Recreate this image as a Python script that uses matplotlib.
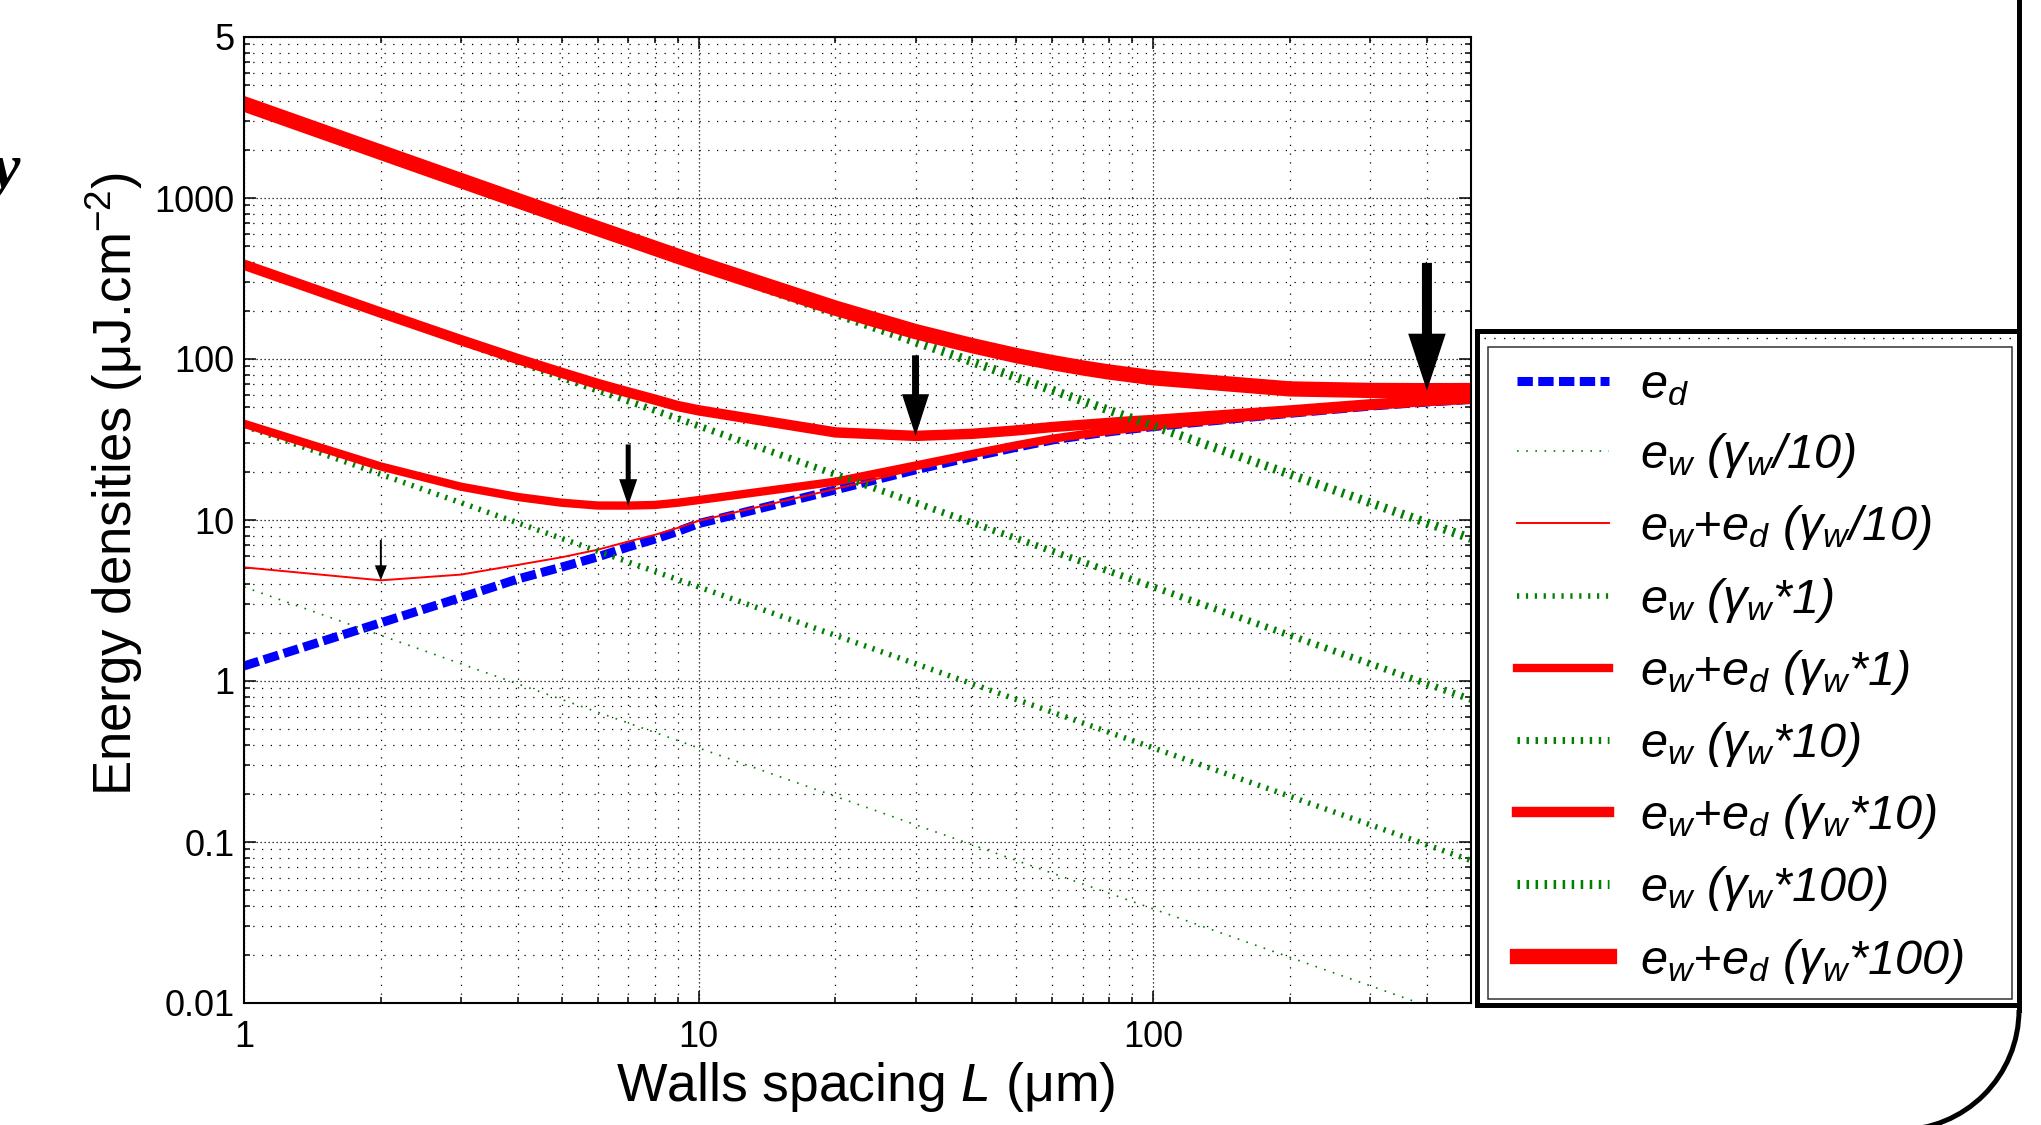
import numpy as np
import matplotlib.pyplot as plt
from matplotlib.patches import Rectangle, Arc
from matplotlib.lines import Line2D
from matplotlib.ticker import LogLocator, NullFormatter

plt.rcParams['font.family'] = ['Liberation Sans', 'DejaVu Sans']
plt.rcParams['mathtext.fontset'] = 'custom'
plt.rcParams['mathtext.rm'] = 'Liberation Sans'
plt.rcParams['mathtext.it'] = 'Liberation Sans:italic'
plt.rcParams['mathtext.bf'] = 'Liberation Sans:bold'

# walls spacing L (um) and energy densities (uJ/cm2)
L = [1, 2, 3, 4, 5, 6, 7, 8, 9, 10, 20, 30, 40, 50, 60, 70, 80, 90, 100, 200, 300, 400, 500]
e_d = [1.24, 2.3, 3.3, 4.3, 5.1, 5.9, 6.8, 7.6, 8.5, 9.5, 15.4, 20.5, 24.7, 28.3, 31.4,
       33.5, 35.3, 36.8, 38.0, 46.0, 51.0, 54.0, 56.0]
sum_div10 = [5.08, 4.22, 4.58, 5.26, 5.87, 6.54, 7.35, 8.08, 8.93, 9.88, 15.6, 20.6, 24.8,
             28.4, 31.5, 33.6, 35.3, 36.8, 38.0, 46.0, 51.0, 54.0, 56.0]
sum_x1 = [39.6, 21.5, 16.1, 13.9, 12.8, 12.3, 12.29, 12.4, 12.8, 13.3, 17.3, 21.8, 25.7,
          29.1, 32.0, 34.0, 35.8, 37.2, 38.4, 46.2, 51.1, 54.1, 56.1]
sum_x10 = [385, 194, 131, 100, 82, 70, 62, 56, 51, 48, 35, 33.3, 34.3, 36.0, 37.8, 39.0,
           40.1, 41.1, 41.8, 47.9, 52.3, 55.0, 56.8]
sum_x100 = [3841, 1922, 1283, 964, 773, 646, 556, 488, 435, 393, 207, 148, 121, 105, 95,
            88, 83, 79.5, 76.4, 65.2, 63.8, 63.6, 63.7]

# wall energy lines (straight in log-log), end points
L_ends = [1, 500]
ew_div10 = [3.84, 0.00768]
ew_x1 = [38.4, 0.0768]
ew_x10 = [384, 0.768]
ew_x100 = [3840, 7.68]

y_ticks = [0.01, 0.1, 1, 10, 100, 1000, 10000]
y_ticklabels = ['0.01', '0.1', '1', '10', '100', '1000', '5']
x_ticks = [1, 10, 100]
x_ticklabels = ['1', '10', '100']

W, H = 2041, 1125
fig = plt.figure(figsize=(W / 100, H / 100), dpi=100)
ax = fig.add_axes([244 / W, 1 - 1003 / H, 1227 / W, 966 / H])
ax.set_xscale('log')
ax.set_yscale('log')

green = '#008000'
ax.plot(L, e_d, color='blue', lw=6.5, ls=(0, (1.7, 0.6)), label=r'$e_d$')
ax.plot(L_ends, ew_div10, color=green, lw=1.2, ls=(0, (1, 4.5)), label=r'$e_w$ ($\gamma_w$/10)')
ax.plot(L, sum_div10, color='red', lw=1.4, label=r'$e_w$+$e_d$ ($\gamma_w$/10)')
ax.plot(L_ends, ew_x1, color=green, lw=4, ls=(0, (0.4, 1.2)), label=r'$e_w$ ($\gamma_w$*1)')
ax.plot(L, sum_x1, color='red', lw=6, label=r'$e_w$+$e_d$ ($\gamma_w$*1)')
ax.plot(L_ends, ew_x10, color=green, lw=5, ls=(0, (0.35, 0.95)), label=r'$e_w$ ($\gamma_w$*10)')
ax.plot(L, sum_x10, color='red', lw=7.5, label=r'$e_w$+$e_d$ ($\gamma_w$*10)')
ax.plot(L_ends, ew_x100, color=green, lw=6.5, ls=(0, (0.28, 0.72)), label=r'$e_w$ ($\gamma_w$*100)')
ax.plot(L, sum_x100, color='red', lw=11, label=r'$e_w$+$e_d$ ($\gamma_w$*100)')

# arrows at the minima of the total energy
arrows = [(sum_div10, 29, 1.4, 8.6, 10.8),
          (sum_x1, 44, 3.6, 13, 19),
          (sum_x10, 58, 5, 19.5, 30),
          (sum_x100, 92, 7.2, 27, 41)]
for vals, length, width, hw, hl in arrows:
    i = int(np.argmin(vals))
    ax.annotate('', xy=(L[i], vals[i]), xytext=(0, length), textcoords='offset points',
                arrowprops=dict(width=width, headwidth=hw, headlength=hl,
                                facecolor='black', edgecolor='none', shrink=0), zorder=10)

ax.set_xlim(1, 500)
ax.set_ylim(0.01, 10000)
ax.set_xticks(x_ticks)
ax.set_xticklabels(x_ticklabels)
ax.set_yticks(y_ticks)
ax.set_yticklabels(y_ticklabels)
ax.xaxis.set_minor_locator(LogLocator(base=10, subs=np.arange(2, 10)))
ax.yaxis.set_minor_locator(LogLocator(base=10, subs=np.arange(2, 10)))
ax.xaxis.set_minor_formatter(NullFormatter())
ax.yaxis.set_minor_formatter(NullFormatter())

ax.grid(which='major', color='black', lw=0.9, ls=(0, (1, 2.2)))
ax.grid(which='minor', color='black', lw=0.9, ls=(0, (1, 6)))
ax.set_axisbelow(True)
ax.tick_params(which='both', direction='in', top=True, right=True, width=1.1, labelsize=26)
ax.tick_params(which='major', length=8.6)
ax.tick_params(which='minor', length=4.3)
ax.tick_params(axis='x', pad=12)
ax.tick_params(axis='y', pad=7)
for sp in ax.spines.values():
    sp.set_linewidth(1.5)

ax.set_xlabel(r'Walls spacing $\mathit{L}$ ($\mathrm{\mu}$m)', fontsize=38.5)
ax.xaxis.set_label_coords((866 - 244) / 1227, (1003 - 1060) / 966)
ax.set_ylabel('Energy densities (\u03bcJ.cm$^{-2}$)', fontsize=38)
ax.yaxis.set_label_coords((145 - 244) / 1227, (1003 - 484) / 966)

fig.legend(loc='upper left', bbox_to_anchor=(1517 / W, 1 - 363 / H), frameon=False,
           prop={'size': 35, 'style': 'italic'}, handlelength=1.89, handletextpad=0.64,
           labelspacing=0.477, borderpad=0, borderaxespad=0)

# frame decorations around the legend and the panel
tr = fig.dpi_scale_trans
fig.add_artist(Rectangle((1488 / 100, (H - 999) / 100), 5.24, 6.52, fill=False,
                         lw=1.1, ec='#333333', transform=tr))
fig.add_artist(Line2D([1484 / 100, 2014 / 100], [(H - 338) / 100] * 2, lw=1.0,
                      color='black', ls=(0, (1, 6)), transform=tr))
fig.add_artist(Rectangle((1477 / 100, (H - 1005) / 100), 5.42, 6.74, fill=False,
                         lw=3.6, ec='black', transform=tr))
fig.add_artist(Line2D([20.19, 20.19], [11.3, (H - 1010) / 100], lw=3.6, color='black',
                      transform=tr))
fig.add_artist(Arc((18.99, (H - 1010) / 100), 2.4, 2.4, theta1=270, theta2=360, lw=3.6,
                   color='black', transform=tr))

fig.text(20 / W, 1 - 187 / H, 'y', fontsize=46, family='Liberation Serif',
         weight='bold', style='italic', ha='right', va='baseline')

fig.savefig('out.png', dpi=100)
